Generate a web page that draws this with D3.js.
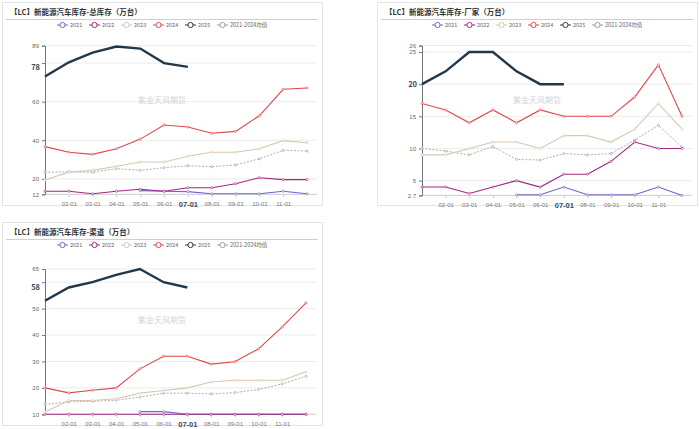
<!DOCTYPE html>
<html>
<head>
<meta charset="utf-8">
<script src="https://cdn.jsdelivr.net/npm/d3@7"></script>
<style>
  body { margin: 0; background: #fff; }
  svg { display: block; font-family: "Noto Sans CJK SC", "Noto Sans", sans-serif; }
</style>
</head>
<body>
<svg width="700" height="429"></svg>
<script>
var months = ["01-01","02-01","03-01","04-01","05-01","06-01","07-01","08-01","09-01","10-01","11-01","12-01"];
var seriesNames = ["2021","2022","2023","2024","2025","2021-2024均值"];
var seriesColors = ["#6f63c9","#a0267f","#d9c6b0","#e0464b","#22384a","#9a9a9a"];
var currentMonth = "07-01";

// 总库存
var total2021 = [null,null,null,null,13.9,13.6,13.4,12.3,12.3,12.3,13.6,12.3];
var total2022 = [13.6,13.6,12.3,13.6,14.6,13.6,15.4,15.4,17.5,20.6,19.6,19.6];
var total2023 = [19.4,23.5,24.4,26.5,28.7,28.7,31.7,33.8,33.8,35.6,39.8,38.7];
var total2024 = [36.7,33.8,32.7,35.6,40.6,47.9,46.9,43.6,44.6,52.7,66.4,67.1];
var total2025 = [73,80.4,85.4,88.6,87.5,80,78];
var totalAvg  = [23.4,23.7,23.4,25.3,24.4,25.8,26.8,26.3,27.2,30.4,34.8,34.4];
var totalTicks = [12,20,40,60,80,89];

// 厂家
var factory2021 = [null,null,null,null,2.8,2.8,4,2.8,2.8,2.8,4,2.7];
var factory2022 = [4,4,3,4,5,4,6,6,8,11,10,10];
var factory2023 = [9,9,10,11,11,10,12,12,11,13,17,13];
var factory2024 = [17,16,14,16,14,16,15,15,15,18,23,15];
var factory2025 = [20,22,25,25,22,20,20];
var factoryAvg  = [10,9.6,9,10.3,8.3,8.2,9.2,9,9.2,11.3,13.6,10.2];
var factoryTicks = [2.7,5,10,15,20,25,26];

// 渠道
var channel2021 = [null,null,null,null,11,11,10,10,10,10,10,10];
var channel2022 = [10,10,10,10,10,10,10,10,10,10,10,10];
var channel2023 = [10.9,15.2,15.2,15.9,18,19,20,22.2,22.9,22.9,22.9,26.1];
var channel2024 = [20,18.1,19.1,20,27.2,32,32,29,29.9,34.8,43.1,52.2];
var channel2025 = [53,58,60,62.8,65,60,58];
var channelAvg  = [13.7,14.7,14.9,15.3,16.5,18,18,17.7,18.2,19.4,21.5,24.4];
var channelTicks = [10,20,30,40,50,60,65];

var svg = d3.select("svg");

function drawPanel(p) {
    var g = svg.append("g").attr("transform", "translate(" + p.x + "," + p.y + ")");

    g.append("rect")
        .attr("x", 0.5).attr("y", 0.5)
        .attr("width", 320).attr("height", 203)
        .style("fill", "#fff").style("stroke", "#e4e4e4");

    g.append("text")
        .attr("x", 8).attr("y", 13)
        .style("font-size", "7.5px").style("font-weight", "bold").style("fill", "#333")
        .text(p.title);

    g.append("line")
        .attr("x1", 4).attr("x2", 316).attr("y1", 17.5).attr("y2", 17.5)
        .style("stroke", "#cfcfcf");

    // legend
    var legend = g.append("g").attr("transform", "translate(55,23)");
    var lx = 0;
    seriesNames.forEach(function(name, i) {
        var item = legend.append("g").attr("transform", "translate(" + lx + ",0)");
        item.append("line").attr("x1", 0).attr("x2", 11).attr("y1", 0).attr("y2", 0)
            .style("stroke", seriesColors[i]).style("stroke-width", 1);
        item.append("circle").attr("cx", 5.5).attr("cy", 0).attr("r", 2.6)
            .style("fill", "#fff").style("stroke", seriesColors[i]);
        item.append("text").attr("x", 13).attr("y", 2)
            .style("font-size", "5.5px").style("fill", "#666").text(name);
        lx += (i == 5 ? 60 : 32);
    });

    var x = d3.scalePoint().domain(months).range([p.left, p.right]);
    var y = d3.scaleLinear().domain([p.ticks[0], p.ticks[p.ticks.length - 1]]).range([p.bottom, p.top]);

    var last = p.series[4][p.series[4].length - 1];

    // grid
    g.selectAll(".grid").data(p.ticks.slice(1)).enter()
        .append("line")
        .attr("x1", p.left).attr("x2", p.right + 10)
        .attr("y1", function(d){ return y(d); }).attr("y2", function(d){ return y(d); })
        .style("stroke", "#ececec");

    g.append("line")
        .attr("x1", p.left).attr("x2", p.right + 10)
        .attr("y1", p.bottom).attr("y2", p.bottom)
        .style("stroke", "#ccc");

    var axisY = d3.axisLeft(y).tickValues(p.ticks).tickSize(3)
        .tickFormat(function(d){ return d3.format("~g")(d); });
    var gy = g.append("g").attr("transform", "translate(" + p.left + ",0)").call(axisY);
    gy.select(".domain").style("stroke", "#777");
    gy.selectAll(".tick line").style("stroke", "#777");
    gy.selectAll("text").style("font-size", "6px").style("fill", "#666").style("font-family", "inherit")
        .filter(function(d){ return Math.abs(y(d) - y(last)) < 6; })
        .remove();

    var axisX = d3.axisBottom(x).tickSize(3)
        .tickValues(months.slice(1, 11));
    var gx = g.append("g").attr("transform", "translate(0," + p.bottom + ")").call(axisX);
    gx.select(".domain").remove();
    gx.selectAll(".tick line").style("stroke", "#ccc");
    gx.selectAll("text").attr("dy", "0.9em")
        .style("font-size", "6px").style("fill", "#777").style("font-family", "inherit")
        .filter(function(d){ return d == currentMonth; })
        .style("font-size", "7.5px").style("font-weight", "bold").style("fill", "#3a4a5c");

    // watermark
    g.append("text")
        .attr("x", 160).attr("y", 101)
        .attr("text-anchor", "middle")
        .style("font-size", "8px").style("fill", "#d4d4d4")
        .text("紫金天风期货");

    var line = d3.line()
        .defined(function(d){ return d != null; })
        .x(function(d, i){ return x(months[i]); })
        .y(function(d){ return y(d); });

    var order = [5, 0, 1, 2, 3, 4];
    order.forEach(function(si) {
        var vals = p.series[si];
        g.append("path")
            .attr("d", line(vals))
            .style("fill", "none")
            .style("stroke", seriesColors[si])
            .style("stroke-width", si == 4 ? 2.4 : (si == 5 ? 0.8 : 1.1))
            .style("stroke-dasharray", si == 5 ? "2,1.5" : null);
        if (si == 4) return;
        vals.forEach(function(d, i) {
            if (d == null) return;
            g.append("circle")
                .attr("cx", x(months[i])).attr("cy", y(d)).attr("r", 1.1)
                .style("fill", "#fff").style("stroke", seriesColors[si]).style("stroke-width", 0.6);
        });
    });

    // highlighted current value on y axis
    g.append("text")
        .attr("x", p.left - 5).attr("y", y(last) + 2.6)
        .attr("text-anchor", "end")
        .style("font-size", "7.5px").style("font-weight", "bold").style("fill", "#3a4a5c")
        .text(last);
}

drawPanel({
    x: 2, y: 2,
    title: "【LC】新能源汽车库存-总库存（万台）",
    left: 43, right: 305, top: 43.7, bottom: 192.3,
    ticks: totalTicks,
    series: [total2021, total2022, total2023, total2024, total2025, totalAvg]
});

drawPanel({
    x: 377, y: 2,
    title: "【LC】新能源汽车库存-厂家（万台）",
    left: 45, right: 305, top: 43.6, bottom: 193.4,
    ticks: factoryTicks,
    series: [factory2021, factory2022, factory2023, factory2024, factory2025, factoryAvg]
});

drawPanel({
    x: 2, y: 222,
    title: "【LC】新能源汽车库存-渠道（万台）",
    left: 43, right: 304, top: 47, bottom: 192.3,
    ticks: channelTicks,
    series: [channel2021, channel2022, channel2023, channel2024, channel2025, channelAvg]
});
</script>
</body>
</html>
